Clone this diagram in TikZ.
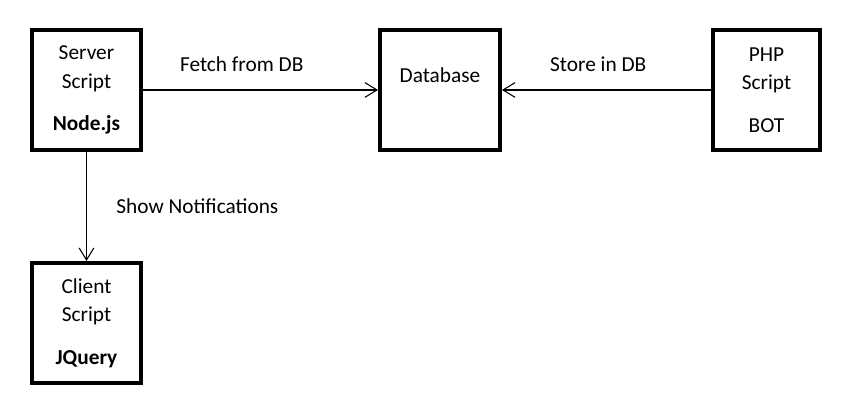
\documentclass[tikz,border=0pt]{standalone}
\usepackage{fontspec}
\setmainfont{Carlito}
\usetikzlibrary{arrows.meta,positioning}

\begin{document}
\begin{tikzpicture}[x=0.75pt, y=-0.75pt,
                box/.style={rectangle, draw, line width=3pt, align=center, minimum width=81.75pt, minimum height=90pt, inner sep=0pt, font=\fontsize{16}{21.5}\selectfont},
                arrow/.style={-{Straight Barb[length=9pt, width=11pt]}, line width=0.8pt},
                lbl/.style={font=\fontsize{16}{19}\selectfont, inner sep=0pt}]

                % Frame
                \useasboundingbox (0,0) rectangle (851,409);

                % Server
                \node[box] (server) at (86.5,90) {Server\\Script\\[10.5pt]\textbf{Node.js}};

                % Database
                \node[box, minimum width=90pt, text depth=22pt] (db) at (440,90) {Database};

                % PHP bot
                \node[box, minimum width=80pt] (php) at (766.5,90) {PHP\\Script\\[10.5pt]BOT};

                % Client
                \node[box] (client) at (86.5,323) {Client\\Script\\[10.5pt]\textbf{JQuery}};

                % Connections
                \draw[arrow] (server) -- node[lbl, pos=0.42, yshift=19.5pt] (fetch) {Fetch from DB} (db);
                \draw[arrow] (php) -- node[lbl, pos=0.54, yshift=19.5pt] (store) {Store in DB} (db);
                \draw[arrow] (server) -- node[lbl, pos=0.5, right=22pt] (notify) {Show Notifications} (client);

            \end{tikzpicture}
\end{document}
